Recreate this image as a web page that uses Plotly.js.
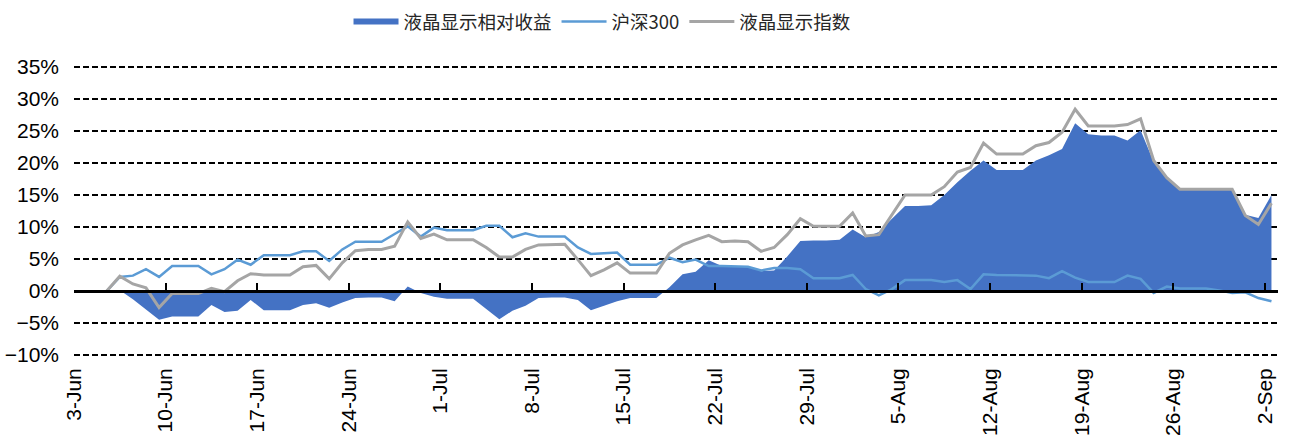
<!DOCTYPE html>
<html>
<head>
<meta charset="utf-8">
<script src="https://cdn.plot.ly/plotly-3.0.1.min.js"></script>
<style>
  html, body { margin: 0; padding: 0; background: #fff; }
  #chart { width: 1293px; height: 444px; }
</style>
</head>
<body>
<div id="chart"></div>
<script>
// ---- data (percent) ----
const startDate = '2024-06-05';
const endDate = '2024-09-02';

const seriesNames = ['液晶显示相对收益', '沪深300', '液晶显示指数'];

// 液晶显示相对收益 (area)
const relReturn = [
  0, 0.1, -1.3, -2.9, -4.5, -4.0, -4.0, -4.0, -2.2, -3.3,
  -3.1, -1.4, -3.0, -3.0, -3.0, -2.2, -1.9, -2.6, -1.8, -1.1,
  -1.0, -1.0, -1.6, 0.7, -0.3, -0.9, -1.2, -1.2, -1.2, -2.8,
  -4.4, -3.1, -2.3, -1.1, -1.0, -1.0, -1.4, -3.0, -2.3, -1.6,
  -1.1, -1.1, -1.1, 0.6, 2.6, 3.0, 4.8, 3.9, 3.9, 3.9,
  3.1, 3.2, 5.4, 7.8, 7.9, 7.9, 8.0, 9.6, 8.4, 9.2,
  11.3, 13.3, 13.3, 13.4, 15.0, 17.0, 18.8, 20.4, 18.9, 18.9,
  18.9, 20.4, 21.2, 22.2, 26.2, 24.5, 24.3, 24.3, 23.5, 25.1,
  20.2, 17.7, 15.8, 15.8, 15.9, 15.9, 15.9, 11.9, 11.4, 15.0
];

// 沪深300
const hs300 = [
  0, 2.2, 2.4, 3.4, 2.2, 3.9, 3.9, 3.9, 2.6, 3.4,
  4.9, 4.1, 5.6, 5.6, 5.6, 6.2, 6.2, 4.7, 6.5, 7.7,
  7.7, 7.7, 8.9, 10.1, 8.5, 9.9, 9.5, 9.5, 9.5, 10.2,
  10.2, 8.4, 9.0, 8.5, 8.5, 8.5, 6.8, 5.8, 5.9, 6.0,
  4.1, 4.1, 4.1, 5.2, 4.5, 4.9, 3.9, 3.9, 3.9, 3.8,
  3.2, 3.6, 3.6, 3.4, 2.0, 2.0, 2.0, 2.5, 0.3, -0.7,
  0.3, 1.7, 1.7, 1.7, 1.4, 1.7, 0.3, 2.6, 2.5, 2.5,
  2.5, 2.4, 2.0, 3.1, 2.1, 1.4, 1.4, 1.4, 2.4, 1.9,
  -0.3, 0.7, 0.4, 0.4, 0.4, 0.1, -0.3, -0.2, -1.1, -1.6
];

// 液晶显示指数
const lcdIndex = [
  0, 2.3, 1.1, 0.5, -2.6, -0.4, -0.4, -0.4, 0.4, -0.1,
  1.6, 2.7, 2.5, 2.5, 2.5, 3.8, 4.0, 1.9, 4.4, 6.3,
  6.5, 6.5, 7.0, 10.8, 8.2, 8.9, 8.0, 8.0, 8.0, 6.8,
  5.3, 5.3, 6.5, 7.2, 7.3, 7.3, 4.9, 2.4, 3.3, 4.4,
  2.8, 2.8, 2.8, 5.9, 7.2, 8.0, 8.7, 7.7, 7.8, 7.7,
  6.2, 6.8, 8.8, 11.3, 10.1, 10.1, 10.1, 12.2, 8.6, 8.8,
  11.9, 15.0, 15.0, 15.0, 16.3, 18.6, 19.3, 23.1, 21.4, 21.4,
  21.4, 22.7, 23.2, 24.8, 28.4, 25.8, 25.8, 25.8, 26.0, 26.9,
  20.4, 17.7, 15.9, 15.9, 15.9, 15.9, 15.9, 11.8, 10.4, 13.7
];

const tickDates = ['2024-06-03','2024-06-10','2024-06-17','2024-06-24','2024-07-01','2024-07-08','2024-07-15',
  '2024-07-22','2024-07-29','2024-08-05','2024-08-12','2024-08-19','2024-08-26','2024-09-02'];
const tickLabels = ['3-Jun','10-Jun','17-Jun','24-Jun','1-Jul','8-Jul','15-Jul',
  '22-Jul','29-Jul','5-Aug','12-Aug','19-Aug','26-Aug','2-Sep'];

const xRange = ['2024-06-03', '2024-09-03'];
const yRange = [-10, 35];
const yPad = 0.3125; // small headroom so the edge gridlines are drawn
const yAxisRange = [yRange[0] - yPad, yRange[1] + yPad];

// daily calendar of the data
const dates = [];
for (let d = new Date(startDate + 'T00:00:00Z'); d <= new Date(endDate + 'T00:00:00Z'); d.setUTCDate(d.getUTCDate() + 1)) {
  dates.push(d.toISOString().slice(0, 10));
}

const DAY = 86400000;

const traces = [
  {
    name: seriesNames[0], type: 'scatter', mode: 'none',
    x: dates, y: relReturn, xperiod: DAY, xperiodalignment: 'middle',
    fill: 'tozeroy', fillcolor: '#4472C4',
    xaxis: 'x', yaxis: 'y'
  },
  {
    name: seriesNames[1], type: 'scatter', mode: 'lines',
    x: dates, y: hs300, xperiod: DAY, xperiodalignment: 'middle',
    line: { color: '#5B9BD5', width: 2.5 },
    xaxis: 'x', yaxis: 'y'
  },
  {
    name: seriesNames[2], type: 'scatter', mode: 'lines',
    x: dates, y: lcdIndex, xperiod: DAY, xperiodalignment: 'middle',
    line: { color: '#A5A5A5', width: 3 },
    xaxis: 'x2', yaxis: 'y'
  }
];

const layout = {
  width: 1293, height: 444,
  margin: { l: 74, r: 15, t: 65, b: 87, pad: 0, autoexpand: false },
  paper_bgcolor: '#ffffff', plot_bgcolor: '#ffffff',
  font: { family: 'Liberation Sans, Arial, sans-serif', size: 21, color: '#000' },
  showlegend: true,
  legend: {
    orientation: 'h', x: 0.228, xanchor: 'left', y: 1.147, yanchor: 'middle',
    font: { family: 'Noto Sans CJK SC, sans-serif', size: 18.5, color: '#262626' },
    itemwidth: 45, traceorder: 'normal', bgcolor: 'rgba(0,0,0,0)'
  },
  xaxis: {
    type: 'date', range: xRange,
    tickmode: 'array', tickvals: tickDates, ticktext: tickLabels,
    tickangle: -90, showgrid: false, showline: false, ticks: '', zeroline: false,
    ticklabelstandoff: 6, fixedrange: true
  },
  xaxis2: {
    type: 'date', range: xRange, overlaying: 'x', anchor: 'free',
    position: (0 - yAxisRange[0]) / (yAxisRange[1] - yAxisRange[0]),
    showline: true, linecolor: '#000', linewidth: 3,
    tickmode: 'array', tickvals: tickDates, ticks: 'inside', ticklen: 7, tickwidth: 2, tickcolor: '#000',
    showticklabels: false, showgrid: false, zeroline: false, fixedrange: true
  },
  yaxis: {
    range: yAxisRange, tickmode: 'linear', dtick: 5, tick0: 0, ticksuffix: '%',
    showgrid: true, gridcolor: '#000', gridwidth: 2, griddash: '6px,3px',
    zeroline: false, showline: false, ticks: '', ticklabelstandoff: 14, fixedrange: true
  }
};

Plotly.newPlot('chart', traces, layout, { displayModeBar: false });
</script>
</body>
</html>
